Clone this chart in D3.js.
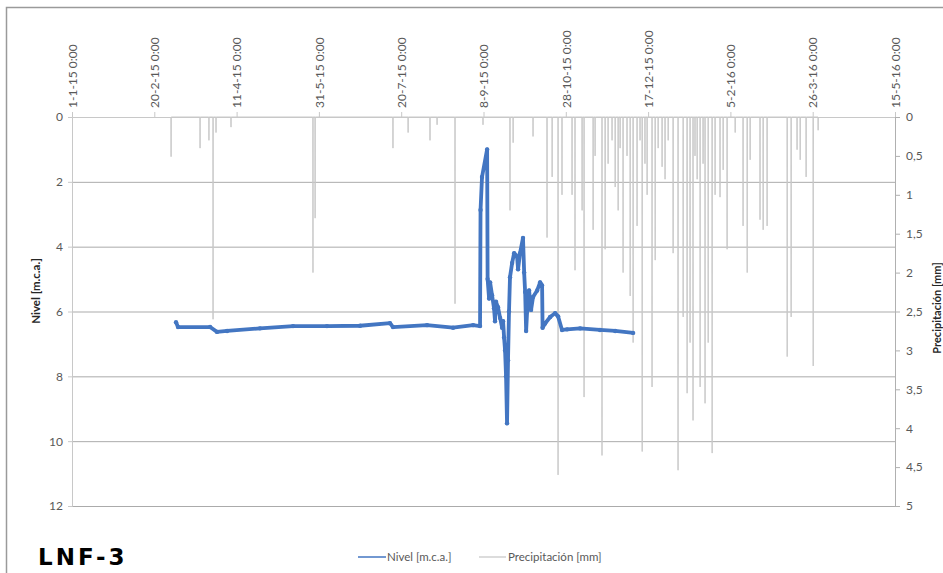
<!DOCTYPE html>
<html>
<head>
<meta charset="utf-8">
<script src="https://cdn.jsdelivr.net/npm/d3@7"></script>
<style>
  body { margin: 0; background: #fff; }
  svg { display: block; }
  .tick text { fill: #595959; font-family: Lato, "Open Sans", sans-serif; font-size: 12px; }
</style>
</head>
<body>
<div id="chart"></div>
<script>
// Days counted from 1-1-2015 0:00
const startDate = Date.UTC(2015, 0, 1);
const dateTicks = [0, 50, 100, 150, 200, 250, 300, 350, 400, 450, 500];
const levelTicks = [0, 2, 4, 6, 8, 10, 12];
const precipTicks = [0, 0.5, 1, 1.5, 2, 2.5, 3, 3.5, 4, 4.5, 5];

// Nivel [m.c.a.] (day, value)
const levelDays = [63.2, 64.4, 83.9, 88.1, 94.2, 114.2, 134.3, 154.9, 175, 193.2, 195, 215.7, 231.5, 243.7, 247.9,
  248.2, 249.1, 252.2, 252.5, 253.4, 254, 255.2, 256.4, 257, 257.6, 258.8, 260.1, 261.3, 261.9, 262.5, 263.1,
  263.7, 264.3, 264.9, 265.5, 266.1, 267.4, 268.6, 270.4, 271, 272.2, 274, 274.7, 275.3, 275.9, 276.5, 277.7,
  278.9, 280.1, 282.6, 284.4, 285.6, 285.9, 287.4, 290.5, 293.5, 295.3, 297.7, 300.8, 308.7, 320.8, 330, 340.9];
const levelValues = [6.33, 6.48, 6.48, 6.63, 6.6, 6.52, 6.45, 6.45, 6.44, 6.36, 6.48, 6.42, 6.5, 6.42, 6.45,
  2.87, 1.85, 1.0, 5.0, 5.6, 5.1, 5.5, 5.9, 6.3, 5.7, 5.87, 6.2, 6.5, 6.3, 6.8, 7.2,
  8.0, 9.45, 7.5, 6.0, 4.94, 4.5, 4.2, 4.3, 4.7, 4.2, 3.73, 4.8, 5.4, 6.6, 6.0, 5.35,
  5.95, 5.55, 5.35, 5.1, 5.2, 6.5, 6.37, 6.17, 6.05, 6.15, 6.57, 6.55, 6.52, 6.57, 6.6, 6.66];

// Precipitación [mm] (day, value)
const precipDays = [60.2, 77.8, 83.2, 85.7, 87.5, 96.6, 146.4, 147.7, 195, 204.2, 217.5, 221.8, 232.7, 249.7,
  266.1, 268, 280.1, 288.6, 291.7, 295.3, 297.7, 303.8, 305.6, 309.9, 311.1, 316.6, 317.8, 322, 323.9, 325.7,
  328.1, 330, 331.8, 333, 334.8, 337.2, 339.1, 340.9, 343.3, 345.1, 346.4, 348.1, 349.4, 352.4, 354.3, 356.1,
  358.5, 360.3, 362.2, 365.2, 368.2, 371.3, 373.7, 375.5, 377.3, 378.5, 379.8, 381.6, 383.4, 384.6, 386.5,
  388.9, 390.7, 393.7, 395.6, 398, 402.9, 407.7, 410.2, 412, 418, 419.9, 422.3, 434.5, 436.9, 440.5, 442.4,
  446, 450.3, 453.3];
const precipValues = [0.51, 0.4, 0.3, 2.6, 0.2, 0.13, 2.0, 1.3, 0.4, 0.2, 0.3, 0.1, 2.4, 0.1,
  1.2, 0.33, 0.25, 1.55, 0.77, 4.6, 1.0, 1.0, 1.97, 1.2, 3.6, 1.45, 0.5, 4.35, 1.7, 0.6,
  0.3, 0.9, 1.2, 0.4, 2.0, 0.5, 2.3, 2.9, 1.4, 0.3, 4.3, 0.6, 1.0, 3.47, 1.84, 0.4,
  0.64, 0.8, 0.3, 1.75, 4.54, 2.57, 3.55, 2.9, 3.9, 0.5, 0.8, 3.47, 0.6, 3.68, 2.9,
  4.32, 1.0, 1.03, 0.68, 1.7, 0.2, 1.4, 2.0, 0.55, 1.32, 1.45, 1.4, 3.08, 2.57, 0.42, 0.55,
  0.77, 3.2, 0.17];

const toDate = day => new Date(startDate + day * 864e5);

const width = 943, height = 573;
const plotLeft = 72, plotRight = 895, plotTop = 117, plotBottom = 506;

const svg = d3.select('#chart').append('svg')
  .attr('width', width)
  .attr('height', height);

// outer frame
svg.append('rect')
  .attr('x', 6.5).attr('y', 7.5)
  .attr('width', 980).attr('height', 620)
  .attr('fill', 'none')
  .attr('stroke', '#9a9a9a')
  .attr('stroke-width', 1.5);

const x = d3.scaleUtc()
  .domain([toDate(0), toDate(500)])
  .range([plotLeft, plotRight]);

const yLevel = d3.scaleLinear().domain([0, 12]).range([plotTop, plotBottom]);
const yPrecip = d3.scaleLinear().domain([0, 5]).range([plotTop, plotBottom]);

// horizontal gridlines
svg.append('g')
  .attr('transform', `translate(${plotLeft},0)`)
  .call(d3.axisLeft(yLevel).tickValues(levelTicks.slice(1)).tickSize(-(plotRight - plotLeft)).tickFormat(''))
  .call(g => g.select('.domain').remove())
  .call(g => g.selectAll('line').attr('stroke', '#ababab'));

// precipitation spikes
const precipPoints = [];
precipDays.forEach((d, i) => {
  precipPoints.push([d - 0.08, 0], [d, precipValues[i]], [d + 0.08, 0]);
});

svg.append('path')
  .datum(precipPoints)
  .attr('fill', 'none')
  .attr('stroke', '#c8c8c8')
  .attr('stroke-width', 1)
  .attr('d', d3.line().x(p => x(toDate(p[0]))).y(p => yPrecip(p[1])));

// top date axis
const fmt = d3.utcFormat('%-d-%-m-%y %-H:%M');
svg.append('g')
  .attr('transform', `translate(0,${plotTop})`)
  .call(d3.axisTop(x).tickValues(dateTicks.map(toDate)).tickSize(5).tickFormat(fmt))
  .call(g => g.select('.domain').attr('stroke', '#c8c8c8'))
  .call(g => g.selectAll('line').attr('stroke', '#c8c8c8'))
  .call(g => g.selectAll('text')
    .attr('transform', 'rotate(-90)')
    .attr('x', 9).attr('y', 0).attr('dy', '0.35em')
    .style('text-anchor', 'start'));

// left axis
svg.append('g')
  .attr('transform', `translate(${plotLeft},0)`)
  .call(d3.axisLeft(yLevel).tickValues(levelTicks).tickSize(4).tickPadding(5))
  .call(g => g.select('.domain').attr('stroke', '#c8c8c8'))
  .call(g => g.selectAll('line').attr('stroke', '#c8c8c8'));

// right axis
svg.append('g')
  .attr('transform', `translate(${plotRight},0)`)
  .call(d3.axisRight(yPrecip).tickValues(precipTicks).tickSize(5).tickPadding(6)
    .tickFormat(d => String(d).replace('.', ',')))
  .call(g => g.select('.domain').attr('stroke', '#b0b0b0'))
  .call(g => g.selectAll('line').attr('stroke', '#b0b0b0'));

// level series
const levelPoints = levelDays.map((d, i) => [d, levelValues[i]]);
const blue = '#4376c2';

svg.append('path')
  .datum(levelPoints)
  .attr('fill', 'none')
  .attr('stroke', blue)
  .attr('stroke-width', 3.8)
  .attr('stroke-linejoin', 'round')
  .attr('d', d3.line().x(p => x(toDate(p[0]))).y(p => yLevel(p[1])));

svg.selectAll('circle.lvl')
  .data(levelPoints)
  .enter()
  .append('circle')
  .attr('class', 'lvl')
  .attr('cx', p => x(toDate(p[0])))
  .attr('cy', p => yLevel(p[1]))
  .attr('r', 2.2)
  .attr('fill', blue);

// axis titles
svg.append('text')
  .attr('transform', 'translate(40,291) rotate(-90)')
  .style('text-anchor', 'middle')
  .style('font-family', 'Lato, sans-serif')
  .style('font-weight', 'bold')
  .style('font-size', '11.5px')
  .attr('fill', '#262626')
  .text('Nivel [m.c.a.]');

svg.append('text')
  .attr('transform', 'translate(941,308) rotate(-90)')
  .style('text-anchor', 'middle')
  .style('font-family', 'Lato, sans-serif')
  .style('font-weight', 'bold')
  .style('font-size', '11px')
  .attr('fill', '#262626')
  .text('Precipitación [mm]');

// legend
const legend = svg.append('g')
  .style('font-family', 'Lato, sans-serif')
  .style('font-size', '11.5px');

legend.append('line')
  .attr('x1', 358).attr('x2', 386).attr('y1', 557).attr('y2', 557)
  .attr('stroke', blue).attr('stroke-width', 1.5);
legend.append('text')
  .attr('x', 387).attr('y', 561)
  .attr('fill', '#595959')
  .text('Nivel [m.c.a.]');

legend.append('line')
  .attr('x1', 479).attr('x2', 506).attr('y1', 557).attr('y2', 557)
  .attr('stroke', '#d0d0d0').attr('stroke-width', 1.5);
legend.append('text')
  .attr('x', 508).attr('y', 561)
  .attr('fill', '#595959')
  .text('Precipitación [mm]');

// title
svg.append('text')
  .attr('x', 38).attr('y', 565)
  .style('font-family', '"DejaVu Sans", sans-serif')
  .style('font-weight', 'bold')
  .style('font-size', '23px')
  .style('letter-spacing', '3px')
  .attr('fill', '#000')
  .text('LNF-3');
</script>
</body>
</html>
